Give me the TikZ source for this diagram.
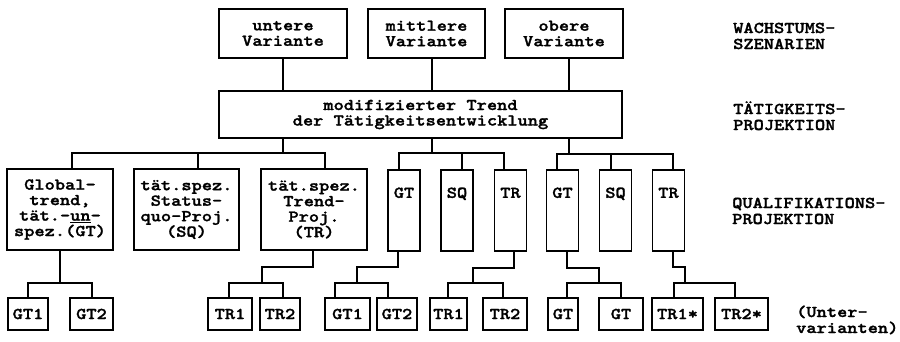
\documentclass[tikz,border=0pt]{standalone}
\usepackage{fontspec}
\newfontfamily\tw[FakeStretch=1.18,FakeBold=1.6]{lmmonolt10-bold.otf}
\begin{document}
\begin{tikzpicture}[x=1pt,y=-1pt,
  every node/.style={font=\tw\fontsize{16.5}{15.5}\selectfont},
  box/.style={draw,line width=1.7pt,inner sep=0pt,align=center},
  nbox/.style={box,minimum width=32,text height=28pt,text depth=53pt,anchor=north},
  sbox/.style={box,minimum height=32},
  conn/.style={line width=1.7pt},
  lbl/.style={anchor=base west,inner sep=0pt}]
\useasboundingbox (0,0) rectangle (900,341);

% level 1
\node[box,minimum width=128,minimum height=49] (u) at (283,33.5) {untere\\Variante};
\node[box,minimum width=117,minimum height=49] (m) at (426.5,33.5) {mittlere\\Variante};
\node[box,minimum width=118,minimum height=49] (o) at (564,33.5) {obere\\Variante};
% level 2
\node[box,minimum width=403,minimum height=47] (mid) at (420.5,114.5) {modifizierter Trend\\der Tätigkeitsentwicklung};
% level 3
\node[box,minimum width=106,minimum height=81] (A) at (60,209.5) {Global-\\trend,\\tät.-\underline{un}-\\spez.(GT)};
\node[box,minimum width=105,minimum height=81] (B) at (186.5,209.5) {tät.spez.\\Status-\\quo-Proj.\\(SQ)};
\node[box,minimum width=106,minimum height=81] (C) at (314,209.5) {tät.spez.\\Trend-\\Proj.\\(TR)};
\node[nbox] (D) at (404,169) {GT};
\node[nbox] (E) at (457,169) {SQ};
\node[nbox] (F) at (510.5,169) {TR};
\node[nbox] (G) at (562.5,169) {GT};
\node[nbox] (H) at (615.5,169) {SQ};
\node[nbox] (I) at (668.5,169) {TR};
% level 4
\node[sbox,minimum width=40] (a1) at (28,314) {GT1};
\node[sbox,minimum width=43] (a2) at (91.5,314) {GT2};
\node[sbox,minimum width=44] (c1) at (230,314) {TR1};
\node[sbox,minimum width=40] (c2) at (280,314) {TR2};
\node[sbox,minimum width=45] (d1) at (347.5,314) {GT1};
\node[sbox,minimum width=40] (d2) at (397,314) {GT2};
\node[sbox,minimum width=37] (f1) at (448.5,314) {TR1};
\node[sbox,minimum width=44] (f2) at (505,314) {TR2};
\node[sbox,minimum width=30] (g1) at (563,314) {GT};
\node[sbox,minimum width=44] (g2) at (621,314) {GT};
\node[sbox,minimum width=51] (i1) at (677.5,314) {TR1*};
\node[sbox,minimum width=53] (i2) at (741.5,314) {TR2*};

% right labels
\node[lbl] (w1) at (733,33) {WACHSTUMS-};
\node[lbl] (w2) at (733,49) {SZENARIEN};
\node[lbl] (t1) at (733,114) {TÄTIGKEITS-};
\node[lbl] (t2) at (733,130) {PROJEKTION};
\node[lbl] (q1) at (732,208) {QUALIFIKATIONS-};
\node[lbl] (q2) at (732,224) {PROJEKTION};
\node[lbl] (v1) at (796,317) {(Unter-};
\node[lbl] (v2) at (796,333) {varianten)};

% connectors level 1 -> 2
\draw[conn] (u.south) -- (u.south |- mid.north);
\draw[conn] ([xshift=5.5pt]m.south) -- ([xshift=5.5pt]m.south |- mid.north);
\draw[conn] ([xshift=5pt]o.south) -- ([xshift=5pt]o.south |- mid.north);

% level 2 -> 3
\coordinate (j1) at (283,153);
\coordinate (j2) at (432,153);
\coordinate (j3) at (569,154);
\draw[conn] (mid.south -| j1) -- (j1);
\draw[conn] ([xshift=12pt]A.north) |- (j1) -| ([xshift=11pt]C.north);
\draw[conn] ([xshift=11.5pt]B.north) -- ([xshift=11.5pt]B.north |- j1);
\draw[conn] (mid.south -| j2) -- (j2);
\draw[conn] ([xshift=-5pt]D.north) |- (j2) -| ([xshift=-6.5pt]F.north);
\draw[conn] ([xshift=5pt]E.north) -- ([xshift=5pt]E.north |- j2);
\draw[conn] (mid.south -| j3) -- (j3);
\draw[conn] ([xshift=-5.5pt]G.north) |- (j3) -| ([xshift=4.5pt]I.north);
\draw[conn] ([xshift=-4.5pt]H.north) -- ([xshift=-4.5pt]H.north |- j3);

% level 3 -> 4
\coordinate (jA) at (60,283);
\draw[conn] (A.south) -- (jA);
\draw[conn] (a1.north) |- (jA) -| ([xshift=0.5pt]a2.north);

\coordinate (kC) at (262,267);
\coordinate (jC) at (262,283);
\draw[conn] ([xshift=-1pt]C.south) |- (kC) -- (jC);
\draw[conn] ([xshift=-1pt]c1.north) |- (jC) -| ([xshift=3pt]c2.north);

\coordinate (kD) at (357,267);
\coordinate (jD) at (357,283);
\draw[conn] ([xshift=-6pt]D.south) |- (kD) -- (jD);
\draw[conn] ([xshift=-12.5pt]d1.north) |- (jD) -| ([xshift=-9pt]d2.north);

\coordinate (kF) at (473,268);
\coordinate (jF) at (473,283);
\draw[conn] ([xshift=3.5pt]F.south) |- (kF) -- (jF);
\draw[conn] ([xshift=-0.5pt]f1.north) |- (jF) -| ([xshift=-2pt]f2.north);

\coordinate (kG) at (599,268);
\coordinate (jG) at (599,283);
\draw[conn] ([xshift=4.5pt]G.south) |- (kG) -- (jG);
\draw[conn] ([xshift=4pt]g1.north) |- (jG) -| (g2.north);

\coordinate (kI) at (685,267);
\coordinate (jI) at (685,283);
\draw[conn] ([xshift=4.5pt]I.south) |- (kI) -- (jI);
\draw[conn] ([xshift=-3.5pt]i1.north) |- (jI) -| ([xshift=-6.5pt]i2.north);
\end{tikzpicture}
\end{document}
